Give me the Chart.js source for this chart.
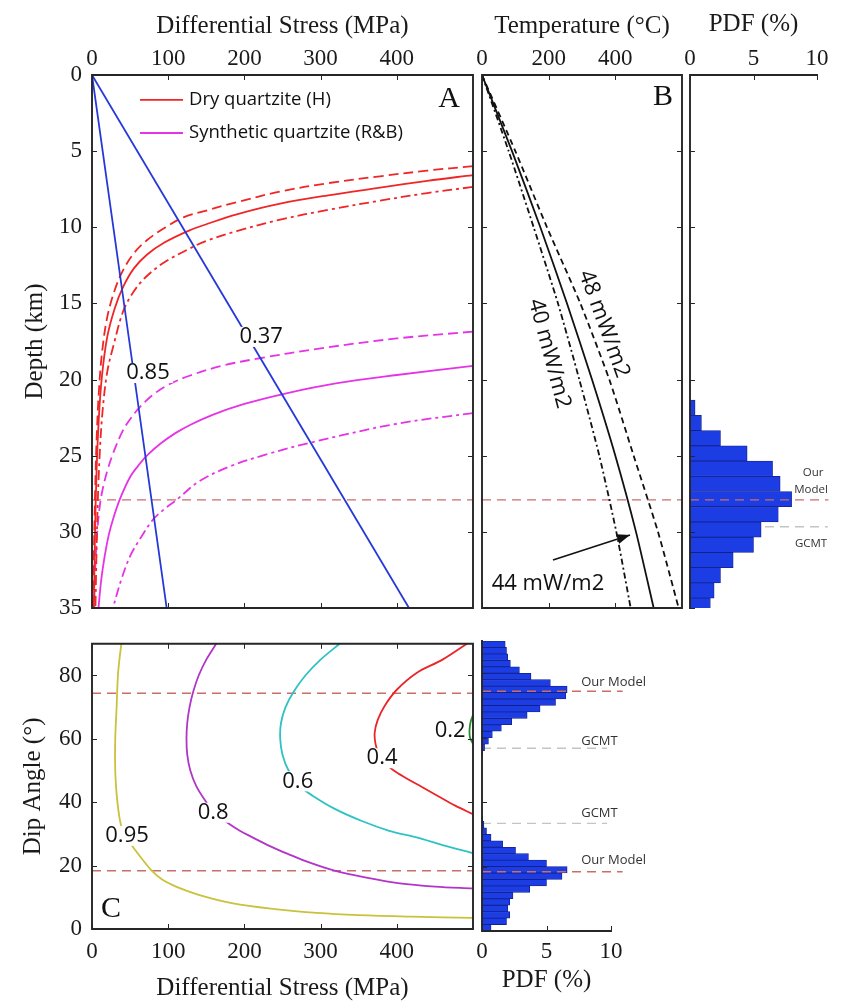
<!DOCTYPE html>
<html>
<head>
<meta charset="utf-8">
<title>Stress, temperature and dip angle</title>
<script src="https://cdn.jsdelivr.net/npm/chart.js"></script>
<style>
  html, body { margin:0; padding:0; background:#fff; }
  body { width:851px; height:1004px; position:relative; overflow:hidden; }
  canvas { position:absolute; }
</style>
</head>
<body>
<canvas id="cA" width="480" height="640" style="left:0;top:0;width:480px;height:640px"></canvas>
<canvas id="cB" width="214" height="640" style="left:474px;top:0;width:214px;height:640px"></canvas>
<canvas id="cP1" width="171" height="640" style="left:680px;top:0;width:171px;height:640px"></canvas>
<canvas id="cC" width="480" height="384" style="left:0;top:620px;width:480px;height:384px"></canvas>
<canvas id="cP2" width="212" height="384" style="left:466px;top:620px;width:212px;height:384px"></canvas>
<script>
// ---------------- tick labels ----------------
const stressTicks = [0, 100, 200, 300, 400];
const depthTicks  = [0, 5, 10, 15, 20, 25, 30, 35];
const tempTicks   = [0, 200, 400];
const pdfTicks    = [0, 5, 10];
const dipTicks    = [0, 20, 40, 60, 80];

// ---------------- panel A : [stress MPa, depth km] ----------------
const mu085 = [[0, 0], [98, 35]];
const mu037 = [[0, 0], [416, 35]];
const dryH_solid = [[500,6.57],[440,6.95],[378,7.4],[310,7.9],[247,8.45],[190,9.15],[150,9.8],[128,10.2],[95,11.0],[72,11.8],[55,12.7],[41,13.9],[30,15.3],[20,17.2],[13,19.8],[9,22.5],[6,26],[4,30],[2.5,35]];
const dryH_dash = [[500,5.98],[440,6.28],[378,6.65],[310,7.1],[247,7.65],[190,8.35],[150,8.9],[120,9.35],[95,10.05],[72,10.85],[55,11.7],[41,12.8],[30,14.1],[20,15.9],[13,18.3],[9,20.8],[6,24],[4,27.6],[2,33],[1.6,35]];
const dryH_dashdot = [[500,7.35],[440,7.75],[378,8.25],[310,8.85],[247,9.5],[190,10.25],[150,10.9],[128,11.4],[95,12.3],[72,13.2],[55,14.2],[41,15.5],[28,17.8],[20,19.5],[14,22],[10,25],[7,29],[4.5,35]];
const synRB_solid = [[500,19.1],[400,19.7],[320,20.25],[255,20.9],[200,21.6],[159,22.3],[130,22.95],[110,23.5],[90,24.2],[72,25.0],[60,25.7],[50,26.4],[37,27.8],[28,29.1],[22,30.2],[17,31.5],[12,33.2],[8.5,35]];
const synRB_dash = [[500,16.85],[400,17.3],[300,17.95],[220,18.6],[170,19.1],[128,19.75],[100,20.35],[80,21.0],[63,21.8],[50,22.6],[40,23.4],[28,24.8],[20,26.0],[14,27.2],[10.5,28.2],[7,29.9],[5,31.6],[3.5,33.5],[3,35]];
const synRB_dashdot = [[500,22.2],[400,22.9],[290,24.1],[230,24.9],[181,25.7],[140,26.7],[111,27.9],[95,28.5],[80,29.2],[65,30.3],[50,31.6],[38,33.2],[28,34.9],[27,35]];
const modelDepth = 27.9;

// ---------------- panel B : geotherms ----------------
const geoDepth = [0, 5, 10, 15, 20, 25, 30, 35];
const geo40 = [0, 80, 155, 228, 292, 352, 403, 446];
const geo44 = [0, 90, 175, 255, 330, 400, 462, 515];
const geo48 = [0, 100, 195, 295, 382, 455, 528, 590];

// ---------------- depth PDF (%) ----------------
const depthBins = [21.85, 22.85, 23.85, 24.85, 25.85, 26.85, 27.85, 28.85, 29.85, 30.85, 31.85, 32.85, 33.85, 34.85];
const depthPdf  = [0.4, 0.9, 2.4, 4.5, 6.5, 7.1, 8.0, 6.95, 5.6, 5.0, 3.4, 2.4, 1.9, 1.6];
const gcmtDepth = 29.66;

// ---------------- panel C : contours [stress MPa, dip deg] ----------------
const c095 = [[38.5,90],[36,85],[34,80],[32.3,70],[30.5,60],[30.5,50],[32.5,42],[35.5,36],[39,32],[45,29],[54,25.8],[66,22],[78,18.5],[92,15.6],[111,13.3],[140,10.8],[185,8.1],[240,6.3],[295,5.1],[350,4.4],[420,3.9],[500,3.5]];
const c080 = [[163,90],[150,85],[140,80],[133,75],[128,70],[125,65],[124,60],[125,55],[129,50],[137,45],[150,40],[159,37],[175,34],[194,31],[210,29],[235,26],[257,23.7],[285,21],[317,18.5],[360,16.2],[404,14.4],[450,13.4],[500,12.8]];
const c060 = [[325,90],[300,85],[280,80],[265,75],[254,70],[248,65],[247,60],[250,55],[258,50],[273,45],[290,42],[318,38],[355,34],[390,31],[426,28.9],[460,26.5],[500,23.9]];
const c040 = [[492,90],[460,85],[426,80.8],[400,75.5],[384,70.4],[375,66],[371,62],[372,58.5],[376,55.5],[384,52.5],[396,50],[413,47.5],[433,44.8],[455,41.8],[476,39],[500,36.2]];
const c020 = [[500,67.5],[497,65.5],[495.5,63],[496,60.5],[500,58.5]];
const modelDips = [74.4, 18.4];
const gcmtDips  = [56.7, 33.4];

// ---------------- dip PDF (%) ----------------
const dipBins = [1,3,5,7,9,11,13,15,17,19,21,23,25,27,29,31,33,35,37,39,41,43,45,47,49,51,53,55,57,59,61,63,65,67,69,71,73,75,77,79,81,83,85,87,89];
const dipPdf  = [0.7,1.9,2.15,2.0,2.15,2.4,3.7,5.0,6.2,6.6,5.0,3.6,2.6,1.6,0.7,0.35,0.15,0.05,0,0,0,0,0,0,0,0,0,0.05,0.2,0.5,0.8,1.5,2.3,3.5,4.5,5.7,6.5,6.6,5.3,3.8,2.9,2.2,2.0,1.9,1.8];

// ---------------- styles ----------------
const RED = '#f02626', MAG = '#e633e6', BLUE = '#2638d8', REFRED = '#c96f68', GREY = '#c4c4c4';
const SANS = '"Open Sans", "DejaVu Sans", sans-serif';
const SERIF = '"Liberation Serif", "Times New Roman", serif';

// ---------------- plugins ----------------
const framePlugin = {
  id: 'frame',
  afterDatasetsDraw(chart, args, opts) {
    const sides = opts.sides || [];
    const a = chart.chartArea, ctx = chart.ctx;
    const xs = chart.scales.x, ys = chart.scales.y;
    const L = 5;
    ctx.save();
    ctx.setLineDash([]);
    ctx.strokeStyle = '#262626';
    ctx.lineWidth = 1;
    ctx.beginPath();
    sides.forEach(s => {
      if (s === 'top' || s === 'bottom') {
        const y0 = s === 'top' ? a.top : a.bottom, dir = s === 'top' ? 1 : -1;
        xs.ticks.forEach(t => { const p = Math.round(xs.getPixelForValue(t.value)) + 0.5; ctx.moveTo(p, y0); ctx.lineTo(p, y0 + dir * L); });
      } else {
        const x0 = s === 'left' ? a.left : a.right, dir = s === 'left' ? 1 : -1;
        ys.ticks.forEach(t => { const p = Math.round(ys.getPixelForValue(t.value)) + 0.5; ctx.moveTo(x0, p); ctx.lineTo(x0 + dir * L, p); });
      }
    });
    ctx.stroke();
    ctx.lineWidth = 1.9;
    ctx.lineCap = 'square';
    ctx.beginPath();
    sides.forEach(s => {
      if (s === 'top')    { ctx.moveTo(a.left, a.top);    ctx.lineTo(a.right, a.top); }
      if (s === 'bottom') { ctx.moveTo(a.left, a.bottom); ctx.lineTo(a.right, a.bottom); }
      if (s === 'left')   { ctx.moveTo(a.left, a.top);    ctx.lineTo(a.left, a.bottom); }
      if (s === 'right')  { ctx.moveTo(a.right, a.top);   ctx.lineTo(a.right, a.bottom); }
    });
    ctx.stroke();
    ctx.restore();
  }
};

const notesPlugin = {
  id: 'notes',
  afterDraw(chart, args, opts) {
    const ctx = chart.ctx, xs = chart.scales.x, ys = chart.scales.y;
    (opts.lines || []).forEach(l => {
      const x1 = xs.getPixelForValue(l.x1), y1 = ys.getPixelForValue(l.y1);
      const x2 = xs.getPixelForValue(l.x2), y2 = ys.getPixelForValue(l.y2);
      ctx.save();
      ctx.strokeStyle = l.color || '#111';
      ctx.lineWidth = l.width || 1.8;
      ctx.setLineDash(l.dash || []);
      ctx.beginPath(); ctx.moveTo(x1, y1); ctx.lineTo(x2, y2); ctx.stroke();
      if (l.arrow) {
        const ang = Math.atan2(y2 - y1, x2 - x1), len = 13, w = 5;
        ctx.fillStyle = l.color || '#111';
        ctx.beginPath();
        ctx.moveTo(x2, y2);
        ctx.lineTo(x2 - len * Math.cos(ang) + w * Math.sin(ang), y2 - len * Math.sin(ang) - w * Math.cos(ang));
        ctx.lineTo(x2 - len * Math.cos(ang) - w * Math.sin(ang), y2 - len * Math.sin(ang) + w * Math.cos(ang));
        ctx.closePath(); ctx.fill();
      }
      ctx.restore();
    });
    (opts.items || []).forEach(n => {
      const px = xs.getPixelForValue(n.x), py = ys.getPixelForValue(n.y);
      ctx.save();
      ctx.translate(px, py);
      if (n.rot) ctx.rotate(n.rot * Math.PI / 180);
      ctx.font = n.font;
      ctx.textAlign = n.align || 'center';
      ctx.textBaseline = 'middle';
      if (n.bg) {
        const w = ctx.measureText(n.text).width, h = n.h || 20, pad = n.pad === undefined ? 3 : n.pad;
        const x0 = n.align === 'left' ? 0 : -w / 2;
        ctx.fillStyle = '#fff';
        ctx.fillRect(x0 - pad, -h / 2, w + 2 * pad, h);
      }
      ctx.fillStyle = n.color || '#111';
      ctx.fillText(n.text, 0, 0);
      ctx.restore();
    });
  }
};

Chart.register(framePlugin, notesPlugin);
Chart.defaults.animation = false;
Chart.defaults.font.family = SERIF;
Chart.defaults.color = '#1a1a1a';
Chart.defaults.plugins.legend.display = false;
Chart.defaults.plugins.tooltip.enabled = false;

function scale(o) {
  return {
    type: 'linear', position: o.pos, min: o.min, max: o.max, reverse: !!o.reverse, offset: false,
    grid: { display: false, drawTicks: false }, border: { display: false },
    afterBuildTicks: s => { s.ticks = o.ticks.map(v => ({ value: v })); },
    afterFit: s => { if (o.pos === 'top' || o.pos === 'bottom') s.height = o.size; else s.width = o.size; },
    ticks: { display: o.labels !== false, autoSkip: false, maxRotation: 0, padding: o.tickPad || 0, color: '#1a1a1a', font: { size: 23, family: SERIF } },
    title: o.title ? { display: true, text: o.title, color: '#1a1a1a', font: { size: 25, family: SERIF }, padding: o.titlePad } : { display: false }
  };
}
function curve(arr, color, dash, extra) {
  return Object.assign({ type: 'line', data: arr.map(p => ({ x: p[0], y: p[1] })), borderColor: color, borderWidth: 1.8,
    borderDash: dash || [], pointRadius: 0, tension: 0.35, fill: false, order: 0 }, extra || {});
}
function hline(y, x0, x1, color, extra) {
  return Object.assign(curve([[x0, y], [x1, y]], color, [9, 6], { borderWidth: 1.4, tension: 0 }), extra || {});
}
function geotherm(vals) { return geoDepth.map((d, i) => [vals[i], d]); }

// ---------------- Panel A ----------------
new Chart(document.getElementById('cA'), {
  type: 'line',
  data: { datasets: [
    curve(mu085, BLUE, []), curve(mu037, BLUE, []),
    curve(dryH_dash, RED, [10, 5]), curve(dryH_solid, RED, []), curve(dryH_dashdot, RED, [10, 4, 3, 4]),
    curve(synRB_dash, MAG, [10, 5]), curve(synRB_solid, MAG, []), curve(synRB_dashdot, MAG, [10, 4, 3, 4]),
    hline(modelDepth, 0, 500, REFRED)
  ]},
  options: {
    responsive: false,
    layout: { padding: { left: 0, top: 0, right: 7, bottom: 32 } },
    scales: {
      x: scale({ pos: 'top', min: 0, max: 500, ticks: stressTicks, title: 'Differential Stress (MPa)', titlePad: { top: 11, bottom: 0 }, tickPad: 2, size: 75 }),
      y: scale({ pos: 'left', min: 0, max: 35, reverse: true, ticks: depthTicks, title: 'Depth (km)', titlePad: { top: 20, bottom: 0 }, tickPad: 10, size: 92 })
    },
    plugins: {
      frame: { sides: ['top', 'right', 'bottom', 'left'] },
      notes: {
        lines: [
          { x1: 63, y1: 1.64, x2: 119.4, y2: 1.64, color: RED },
          { x1: 63, y1: 3.81, x2: 119.4, y2: 3.81, color: MAG }
        ],
        items: [
          { text: 'Dry quartzite (H)', x: 127.3, y: 1.64, font: '18.5px ' + SANS, align: 'left' },
          { text: 'Synthetic quartzite (R&B)', x: 127.3, y: 3.81, font: '18.5px ' + SANS, align: 'left' },
          { text: '0.85', x: 73.5, y: 19.57, font: '22px ' + SANS, bg: true },
          { text: '0.37', x: 222, y: 17.2, font: '22px ' + SANS, bg: true },
          { text: 'A', x: 468.5, y: 1.58, font: '30px ' + SERIF }
        ]
      }
    }
  }
});

// ---------------- Panel B ----------------
new Chart(document.getElementById('cB'), {
  type: 'line',
  data: { datasets: [
    curve(geotherm(geo40), '#111', [6, 3, 2, 3], { tension: 0.2 }),
    curve(geotherm(geo44), '#111', [], { tension: 0.2 }),
    curve(geotherm(geo48), '#111', [6, 4], { tension: 0.2 }),
    hline(modelDepth, 0, 600, REFRED)
  ]},
  options: {
    responsive: false,
    layout: { padding: { left: 0, top: 0, right: 6, bottom: 32 } },
    scales: {
      x: scale({ pos: 'top', min: 0, max: 600, ticks: tempTicks, title: 'Temperature (°C)', titlePad: { top: 11, bottom: 0 }, tickPad: 2, size: 75 }),
      y: scale({ pos: 'left', min: 0, max: 35, reverse: true, ticks: depthTicks, labels: false, size: 8 })
    },
    plugins: {
      frame: { sides: ['top', 'right', 'bottom', 'left'] },
      notes: {
        lines: [ { x1: 213, y1: 31.85, x2: 444, y2: 30.2, color: '#111', width: 1.6, arrow: true } ],
        items: [
          { text: 'B', x: 543, y: 1.44, font: '30px ' + SERIF },
          { text: '48 mW/m2', x: 366, y: 16.35, rot: 70, font: '22px ' + SANS },
          { text: '40 mW/m2', x: 202, y: 18.3, rot: 75, font: '22px ' + SANS },
          { text: '44 mW/m2', x: 198, y: 33.4, font: '22px ' + SANS }
        ]
      }
    }
  }
});

// ---------------- Depth PDF ----------------
new Chart(document.getElementById('cP1'), {
  type: 'bar',
  data: { datasets: [
    { type: 'bar', data: depthBins.map((d, i) => ({ x: depthPdf[i], y: d })), backgroundColor: '#1d3de4', borderColor: '#12208a',
      borderWidth: 0.8, barPercentage: 1, categoryPercentage: 1, order: 1 },
    hline(gcmtDepth, 0, 10.85, GREY, { order: 2, clip: false }),
    hline(modelDepth, 0, 10.9, REFRED, { order: 0, clip: false })
  ]},
  options: {
    responsive: false, indexAxis: 'y',
    layout: { padding: { left: 0, top: 0, right: 34, bottom: 32 } },
    scales: {
      x: scale({ pos: 'top', min: 0, max: 10, ticks: pdfTicks, title: 'PDF (%)', titlePad: { top: 9, bottom: 0 }, tickPad: 2, size: 75 }),
      y: scale({ pos: 'left', min: 0, max: 35, reverse: true, ticks: depthTicks, labels: false, size: 10 })
    },
    plugins: {
      frame: { sides: ['top', 'left'] },
      notes: { items: [
        { text: 'Our', x: 9.69, y: 26.13, font: '11.5px ' + SANS, color: '#333' },
        { text: 'Model', x: 9.53, y: 27.25, font: '11.5px ' + SANS, color: '#333' },
        { text: 'GCMT', x: 9.53, y: 30.8, font: '11.5px ' + SANS, color: '#333' }
      ]}
    }
  }
});

// ---------------- Panel C ----------------
new Chart(document.getElementById('cC'), {
  type: 'line',
  data: { datasets: [
    curve(c095, '#c9c23c', []), curve(c080, '#b235c8', []), curve(c060, '#2fc2c4', []),
    curve(c040, '#ea2428', []), curve(c020, '#268a2a', []),
    hline(modelDips[0], 0, 500, REFRED), hline(modelDips[1], 0, 500, REFRED)
  ]},
  options: {
    responsive: false,
    layout: { padding: { left: 0, top: 21, right: 7, bottom: 0 } },
    scales: {
      x: scale({ pos: 'bottom', min: 0, max: 500, ticks: stressTicks, title: 'Differential Stress (MPa)', titlePad: { top: 0, bottom: 1 }, tickPad: 9, size: 75 }),
      y: scale({ pos: 'left', min: 0, max: 90, ticks: dipTicks, title: 'Dip Angle (°)', titlePad: { top: 18, bottom: 0 }, tickPad: 10, size: 92 })
    },
    plugins: {
      frame: { sides: ['top', 'right', 'bottom', 'left'] },
      notes: { items: [
        { text: '0.95', x: 46, y: 29.4, font: '22px ' + SANS, bg: true },
        { text: '0.8', x: 159, y: 36.7, font: '22px ' + SANS, bg: true },
        { text: '0.6', x: 270, y: 46.6, font: '22px ' + SANS, bg: true },
        { text: '0.4', x: 380.6, y: 53.9, font: '22px ' + SANS, bg: true },
        { text: '0.2', x: 470, y: 62.7, font: '22px ' + SANS, bg: true, pad: 1 },
        { text: 'C', x: 25, y: 6.25, font: '30px ' + SERIF }
      ]}
    }
  }
});

// ---------------- Dip PDF ----------------
new Chart(document.getElementById('cP2'), {
  type: 'bar',
  data: { datasets: [
    { type: 'bar', data: dipBins.map((d, i) => ({ x: dipPdf[i], y: d })), backgroundColor: '#1d3de4', borderColor: '#12208a',
      borderWidth: 0.8, barPercentage: 1, categoryPercentage: 1, order: 1 },
    hline(gcmtDips[0], 0, 9.7, GREY, { order: 2, clip: false }),
    hline(gcmtDips[1], 0, 9.7, GREY, { order: 2, clip: false }),
    hline(modelDips[0], 0, 10.9, REFRED, { order: 0, clip: false }),
    hline(modelDips[1], 0, 10.9, REFRED, { order: 0, clip: false })
  ]},
  options: {
    responsive: false, indexAxis: 'y',
    layout: { padding: { left: 0, top: 21, right: 67, bottom: 0 } },
    scales: {
      x: scale({ pos: 'bottom', min: 0, max: 10, ticks: pdfTicks, title: 'PDF (%)', titlePad: { top: 0, bottom: 9 }, tickPad: 7, size: 73 }),
      y: scale({ pos: 'left', min: 0, max: 90, ticks: dipTicks, labels: false, size: 16 })
    },
    plugins: {
      frame: { sides: ['bottom', 'left'] },
      notes: { items: [
        { text: 'Our Model', x: 7.69, y: 77.06, font: '13px ' + SANS, color: '#333', align: 'left' },
        { text: 'GCMT', x: 7.69, y: 58.75, font: '13px ' + SANS, color: '#333', align: 'left' },
        { text: 'GCMT', x: 7.69, y: 36.5, font: '13px ' + SANS, color: '#333', align: 'left' },
        { text: 'Our Model', x: 7.69, y: 22.0, font: '13px ' + SANS, color: '#333', align: 'left' }
      ]}
    }
  }
});
</script>
</body>
</html>
